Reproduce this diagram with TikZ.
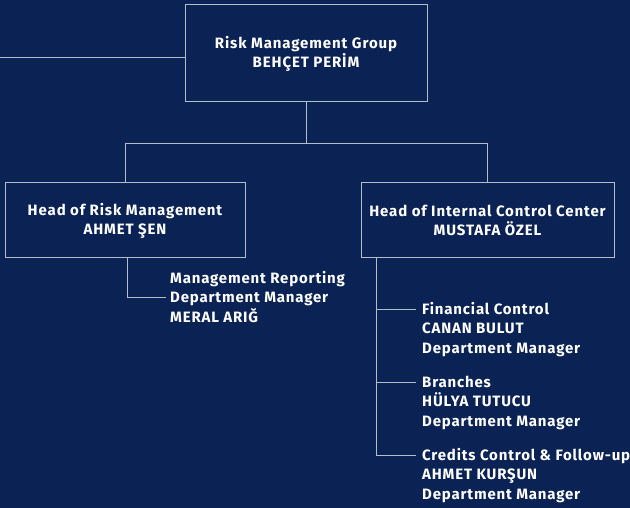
\documentclass[tikz,border=0pt]{standalone}
\usepackage{fontspec}
\setmainfont{Fira Sans}
\newfontfamily\boxfont[LetterSpace=6]{Fira Sans}
\newfontfamily\deptfont[LetterSpace=5.5]{Fira Sans}
\usetikzlibrary{positioning}
\definecolor{navy}{HTML}{0A2354}
\definecolor{rule}{HTML}{B4BDCC}

\tikzset{
  headbox/.style={draw=rule, line width=1pt, align=center, text=white,
    font=\boxfont\bfseries\fontsize{15}{19}\selectfont},
  dept/.style={anchor=north west, align=left, inner sep=0pt, text=white,
    font=\deptfont\bfseries\fontsize{15}{19.5}\selectfont},
  link/.style={draw=rule, line width=0.9pt}
}

\begin{document}
\begin{tikzpicture}[x=1pt, y=-1pt]
\fill[navy] (0,0) rectangle (630,508);
\useasboundingbox (0,0) rectangle (630,508);

\node[headbox, minimum width=242pt, minimum height=97pt] (rmg) at (306,53.5)
  {Risk Management Group\\BEHÇET PERİM};
\node[headbox, minimum width=240pt, minimum height=75pt] (hrm) at (125,220.5)
  {Head of Risk Management\\AHMET ŞEN};
\node[headbox, minimum width=253pt, minimum height=75pt] (icc) at (487.5,220.5)
  {Head of Internal Control Center\\MUSTAFA ÖZEL};

\coordinate (feed) at (0,57);
\draw[link] (feed) -- (feed -| rmg.west);
\draw[link] (rmg.south) -- ++(0,41) coordinate (split);
\draw[link] (hrm.north) |- (split) -| (icc.north);

\node[dept] (mrep) at (170,271) {Management Reporting\\Department Manager\\MERAL ARIĞ};
\node[dept] (fin) at (422,302) {Financial Control\\CANAN BULUT\\Department Manager};
\node[dept] (brn) at (422,375.5) {Branches\\HÜLYA TUTUCU\\Department Manager};
\node[dept] (crd) at (422,448) {Credits Control \& Follow-up\\AHMET KURŞUN\\Department Manager};

\coordinate (mrep-in) at (166,297);
\draw[link] (hrm.south -| 127,0) |- (mrep-in);
\coordinate (fin-in) at (416,309);
\coordinate (brn-in) at (416,382.5);
\coordinate (crd-in) at (416,455);
\draw[link] (icc.south -| 376,0) |- (crd-in);
\draw[link] (brn-in -| 376,0) -- (brn-in);
\draw[link] (fin-in -| 376,0) -- (fin-in);
\end{tikzpicture}
\end{document}
